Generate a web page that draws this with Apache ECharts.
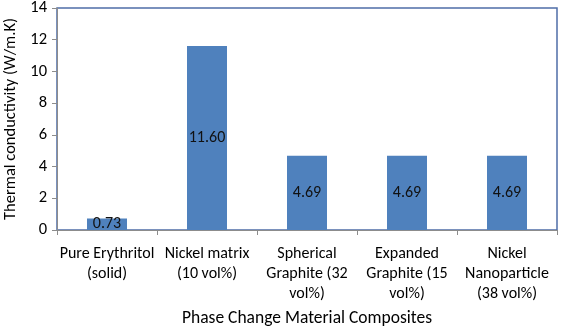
<!DOCTYPE html>
<html><head><meta charset="utf-8">
<script src="https://cdn.jsdelivr.net/npm/echarts@6/dist/echarts.min.js"></script>
<style>html,body{margin:0;padding:0;background:#fff}#c{width:561px;height:329px}</style>
</head><body><div id="c"></div>
<script>
const categories = ["Pure Erythritol\n(solid)", "Nickel matrix\n(10 vol%)", "Spherical\nGraphite (32\nvol%)", "Expanded\nGraphite (15\nvol%)", "Nickel\nNanoparticle\n(38 vol%)"];
const values = [0.73, 11.60, 4.69, 4.69, 4.69];
const yTicks = {min: 0, max: 14, interval: 2};
const FONT = "Carlito, 'Open Sans', 'Noto Sans', sans-serif";
const chart = echarts.init(document.getElementById('c'), null, {renderer: 'canvas'});
chart.setOption({
  animation: false,
  grid: {left: 57, right: 4, top: 8, bottom: 99, containLabel: false, outerBoundsMode: 'none', show: true, borderColor: '#4f6ea8', borderWidth: 1.5, backgroundColor: 'transparent'},
  xAxis: {
    type: 'category', data: categories,
    name: 'Phase Change Material Composites', nameLocation: 'middle', nameGap: 80,
    nameTextStyle: {fontFamily: FONT, fontSize: 17.5, color: '#000'},
    axisLine: {lineStyle: {color: '#8c8c8c', width: 1}},
    axisTick: {show: true, length: 5, lineStyle: {color: '#8c8c8c'}},
    axisLabel: {fontFamily: FONT, fontSize: 16, color: '#000', lineHeight: 20, margin: 14, interval: 0}
  },
  yAxis: {
    type: 'value', min: yTicks.min, max: yTicks.max, interval: yTicks.interval,
    name: 'Thermal conductivity (W/m.K)', nameLocation: 'middle', nameGap: 36,
    nameTextStyle: {fontFamily: FONT, fontSize: 16.5, color: '#000'},
    axisLine: {show: true, lineStyle: {color: '#8c8c8c', width: 1}},
    axisTick: {show: true, length: 5, lineStyle: {color: '#8c8c8c'}},
    splitLine: {show: false},
    axisLabel: {fontFamily: FONT, fontSize: 16.5, color: '#000', margin: 10}
  },
  series: [{
    type: 'bar', data: values, barWidth: '40%',
    itemStyle: {color: '#4f81bd'},
    label: {show: true, position: 'inside', formatter: p => p.value.toFixed(2), fontFamily: FONT, fontSize: 16, color: '#111'}
  }]
});
</script></body></html>
